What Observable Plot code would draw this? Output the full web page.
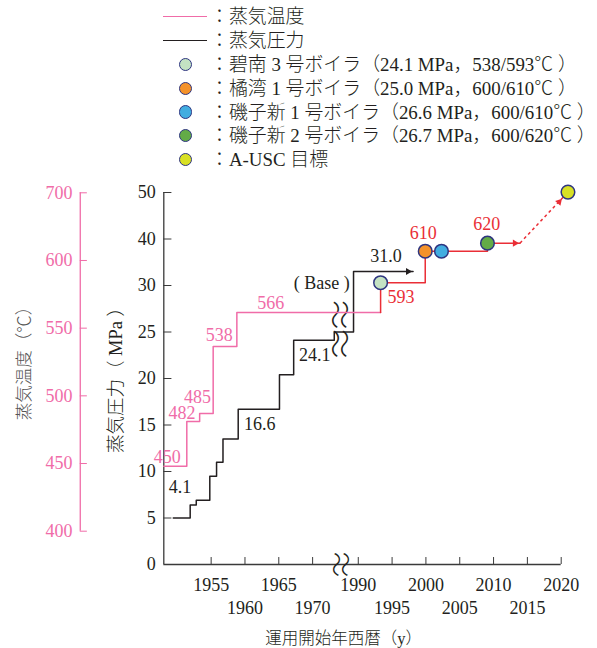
<!DOCTYPE html>
<html><head><meta charset="utf-8">
<script src="https://cdn.jsdelivr.net/npm/d3@7"></script>
<script src="https://cdn.jsdelivr.net/npm/@observablehq/plot@0.6"></script>
<style>
body{margin:0;background:#fff;}
#wrap{position:relative;width:597px;height:648px;overflow:hidden;font-family:'Liberation Serif','Noto Sans CJK JP',serif;color:#231f20;}
#wrap svg{position:absolute;left:0;top:0;}
.row{position:absolute;left:210px;font-size:18.9px;line-height:24px;white-space:nowrap;font-weight:300;}
.sw{position:absolute;height:0;}
.ci{position:absolute;width:11.5px;height:11.5px;border-radius:50%;border:1.5px solid #2e3580;}
</style></head><body><div id="wrap"></div>
<script>
// ---- data ----
const yearTicksTop = [1955, 1965, 1990, 2000, 2010, 2020];
const yearTicksBottom = [1960, 1970, 1995, 2005, 2015];
const pressureTicks = [0, 5, 10, 15, 20, 25, 30, 40, 50];
const tempTicks = [400, 450, 500, 550, 600, 700];

const pressureYears = [1949.4, 1951.9, 1952.8, 1954.8, 1955.8, 1956.75, 1959.0, 1965.1, 1967.2, 1973.2, 1989.3, 1998.1];
const pressureValues = [5.0, 6.4, 6.9, 9.5, 11.0, 13.5, 16.7, 20.4, 24.1, 25.0, 33.0, 33.0];

const tempYears = [1948.0, 1951.4, 1953.3, 1955.3, 1958.8, 1993.3];
const tempValues = [448, 481, 487, 536.5, 561.5, 561.5];

const newYears = [1993.3, 1993.3, 1999.9, 2009.1, 2013.9];
const newTemps = [561.5, 583.6, 613.7, 625.6, 625.6];

const boilerNames = ["碧南 3 号ボイラ（24.1 MPa，538/593℃ ）", "橘湾 1 号ボイラ（25.0 MPa，600/610℃ ）", "磯子新 1 号ボイラ（26.6 MPa，600/610℃ ）", "磯子新 2 号ボイラ（26.7 MPa，600/620℃ ）", "A-USC 目標"];
const boilerYears = [1993.3, 1999.9, 2002.3, 2009.1, 2021.0];
const boilerTemps = [583.6, 613.7, 613.7, 625.6, 701];
const boilerColors = ["#c4e2c3", "#f4922a", "#42ade0", "#63ab47", "#d8e024"];

const tempLabels = ["450", "482", "485", "538", "566"];
const tempLabelYears = [1948.5, 1950.7, 1953.0, 1956.2, 1963.8];
const tempLabelValues = [455, 487.3, 499.3, 545, 568.4];

const redLabels = ["593", "610", "620"];
const redLabelYears = [1996.3, 1999.6, 2009.0];
const redLabelValues = [573, 640.9, 654];

const pressLabels = ["4.1", "16.6", "24.1", "31.0", "( Base )"];
const pressLabelYears = [1950.4, 1962.2, 1970.3, 1994.1, 1971.35];
const pressLabelValues = [8.26, 15.1, 22.5, 36.4, 30.5];

const yearBreak = [1974.45, 1987.7];
const pressureBreak = [30, 50];
const tempBreak = [600, 700];
const breakMarkPressure = 25.3;
const xStart = 1948, xEnd = 2020, tAxisYear = 1935.65;

// ---- styles ----
const ink = "#231f20", axisInk = "#3a3a3a", pink = "#f06ca8", red = "#ea2e36", navy = "#2e3580";
const font = "'Liberation Serif','Noto Sans CJK JP',serif";
const W = 597, H = 648;

// broken / compressed axes via scale transforms
const xMap = d3.scaleLinear().domain([xStart, yearBreak[0], yearBreak[1], xEnd])
  .range([xStart, yearBreak[0], yearBreak[0], yearBreak[0] + (xEnd - yearBreak[1])]);
const pMap = d3.scaleLinear().domain([0, pressureBreak[0], pressureBreak[1]])
  .range([0, pressureBreak[0], pressureBreak[0] + (pressureBreak[1] - pressureBreak[0]) / 2]);
const tMap = d3.scaleLinear().domain([400, tempBreak[0], tempBreak[1]])
  .range([400, tempBreak[0], tempBreak[0] + (tempBreak[1] - tempBreak[0]) / 2]);
const xOpts = {type: "linear", transform: d => xMap(d), domain: [xMap(xStart), xMap(xEnd)], range: [163.3, 560.7], axis: null};
const breakYear = (yearBreak[0] + yearBreak[1]) / 2;

const pressure = pressureYears.map((x, i) => ({x, y: pressureValues[i]}));
const temps = tempYears.map((x, i) => ({x, y: tempValues[i]}));
const news = newYears.map((x, i) => ({x, y: newTemps[i]}));
const boilers = boilerYears.map((x, i) => ({x, y: boilerTemps[i], c: boilerColors[i], n: boilerNames[i]}));
const pl = pressLabels.map((t, i) => ({t, x: pressLabelYears[i], y: pressLabelValues[i]}));
const tl = tempLabels.map((t, i) => ({t, x: tempLabelYears[i], y: tempLabelValues[i]}));
const rl = redLabels.map((t, i) => ({t, x: redLabelYears[i], y: redLabelValues[i]}));
const lastP = pressure[pressure.length - 1];
const lastN = news[news.length - 1];
const target = boilers[boilers.length - 1];

const wave = (y, glyph, size, dx) => Plot.text([y], {x: () => breakYear, y: d => d, text: () => glyph, rotate: -90, textAnchor: "middle", lineAnchor: "middle", fontSize: size, fontWeight: 300, fill: ink, fontFamily: "'Noto Sans CJK JP'", dx});

const pPlot = Plot.plot({
  width: W, height: H, marginLeft: 163.3, marginTop: 192, marginBottom: 84, marginRight: 36.3,
  style: {fontFamily: font, fontSize: "18px", color: ink, background: "transparent"},
  x: xOpts,
  y: {type: "linear", transform: d => pMap(d), domain: [0, pMap(50)], range: [564, 192], axis: null},
  marks: [
    Plot.ruleX([xStart], {y1: 0, y2: 50, stroke: axisInk, strokeWidth: 1.3}),
    Plot.ruleY([0], {x1: xStart, x2: xEnd, stroke: axisInk, strokeWidth: 1.3}),
    Plot.ruleY(pressureTicks.slice(1), {y: d => d, x1: xStart, x2: xStart + 1.2, stroke: axisInk}),
    Plot.ruleX([...yearTicksTop, ...yearTicksBottom], {x: d => d, y1: 0, y2: 0.75, stroke: axisInk}),
    Plot.text(pressureTicks, {y: d => d, text: d => String(d), frameAnchor: "left", textAnchor: "end", lineAnchor: "middle", dx: -8, fontSize: 18, fill: ink}),
    Plot.text(yearTicksTop, {x: d => d, text: d => String(d), frameAnchor: "bottom", textAnchor: "middle", lineAnchor: "middle", dy: 21, fontSize: 18, fill: ink}),
    Plot.text(yearTicksBottom, {x: d => d, text: d => String(d), frameAnchor: "bottom", textAnchor: "middle", lineAnchor: "middle", dy: 43.5, fontSize: 18, fill: ink}),
    Plot.line(pressure, {x: "x", y: "y", curve: "step-after", stroke: ink, strokeWidth: 1.5}),
    Plot.dot([lastP], {x: "x", y: "y", symbol: "triangle2", rotate: 90, r: 3.4, fill: ink, dx: -5}),
    Plot.text(pl, {x: "x", y: "y", text: "t", fill: ink, fontSize: 18}),
    wave(breakMarkPressure, "〜〜", 29, -4.5),
    wave(breakMarkPressure, "〜〜", 29, 4.5),
    wave(0, "〜", 25, -4.5),
    wave(0, "〜", 25, 4.5),
    Plot.text(["蒸気圧力（ MPa ）"], {frameAnchor: "left", textAnchor: "middle", lineAnchor: "middle", rotate: -90, dx: -48, dy: -3, text: d => d, fontSize: 18.5, fontWeight: 300, fill: ink}),
    Plot.text(["運用開始年西暦（y）"], {frameAnchor: "bottom", textAnchor: "middle", lineAnchor: "middle", dx: -19, dy: 74, text: d => d, fontSize: 16.5, fontWeight: 300, fill: ink})
  ]
});

const tPlot = Plot.plot({
  width: W, height: H, marginLeft: 80, marginTop: 192.3, marginBottom: 117.3, marginRight: 36.3,
  style: {fontFamily: font, fontSize: "18px", color: ink, background: "transparent"},
  x: xOpts,
  y: {type: "linear", transform: d => tMap(d), domain: [400, tMap(700)], range: [530.7, 192.3], axis: null},
  marks: [
    Plot.ruleX([tAxisYear], {y1: 400, y2: 700, stroke: pink, strokeWidth: 1.3}),
    Plot.ruleY(tempTicks, {y: d => d, x1: tAxisYear, x2: tAxisYear + 1.05, stroke: pink}),
    Plot.text(tempTicks, {y: d => d, text: d => String(d), frameAnchor: "left", textAnchor: "end", lineAnchor: "middle", dx: -8, fontSize: 18, fill: pink}),
    Plot.line(temps, {x: "x", y: "y", curve: "step-after", stroke: pink, strokeWidth: 1.5}),
    Plot.line(news, {x: "x", y: "y", curve: "step-after", stroke: red, strokeWidth: 1.5}),
    Plot.dot([lastN], {x: "x", y: "y", symbol: "triangle2", rotate: 90, r: 3.4, fill: red, dx: -5}),
    Plot.link([target], {x1: () => lastN.x, y1: () => lastN.y, x2: "x", y2: "y", stroke: red, strokeWidth: 1.5, strokeDasharray: "3,3"}),
    Plot.dot([target], {x: "x", y: "y", symbol: "triangle2", rotate: 42.5, r: 3.4, fill: red, dx: -8.8, dy: 9.7}),
    Plot.dot(boilers, {x: "x", y: "y", r: 6.8, fill: "c", stroke: navy, strokeWidth: 1.5}),
    Plot.text(tl, {x: "x", y: "y", text: "t", fill: pink, fontSize: 18}),
    Plot.text(rl, {x: "x", y: "y", text: "t", fill: red, fontSize: 18}),
    Plot.text(["蒸気温度（℃）"], {frameAnchor: "left", textAnchor: "middle", lineAnchor: "middle", rotate: -90, dx: -56, dy: -3, text: d => d, fontSize: 17.5, fontWeight: 300, fill: "#555"})
  ]
});

const wrap = document.getElementById("wrap");
wrap.appendChild(pPlot);
wrap.appendChild(tPlot);

// legend
const rowsY = [17, 41, 65, 89, 112.5, 136, 160];
const lg = document.createElement("div");
let html = "";
html += `<div class="sw" style="left:163px;width:44px;top:${rowsY[0]-1}px;border-top:1.5px solid ${pink}"></div>`;
html += `<div class="row" style="top:${rowsY[0]-12}px">：蒸気温度</div>`;
html += `<div class="sw" style="left:163px;width:44px;top:${rowsY[1]-1}px;border-top:1.5px solid ${ink}"></div>`;
html += `<div class="row" style="top:${rowsY[1]-12}px">：蒸気圧力</div>`;
boilers.forEach((b, i) => {
  const y = rowsY[i + 2];
  html += `<div class="ci" style="left:${186-7.25}px;top:${y-7.25}px;background:${b.c}"></div>`;
  html += `<div class="row" style="top:${y-12}px">：${b.n}</div>`;
});
lg.innerHTML = html;
wrap.appendChild(lg);
</script></body></html>
